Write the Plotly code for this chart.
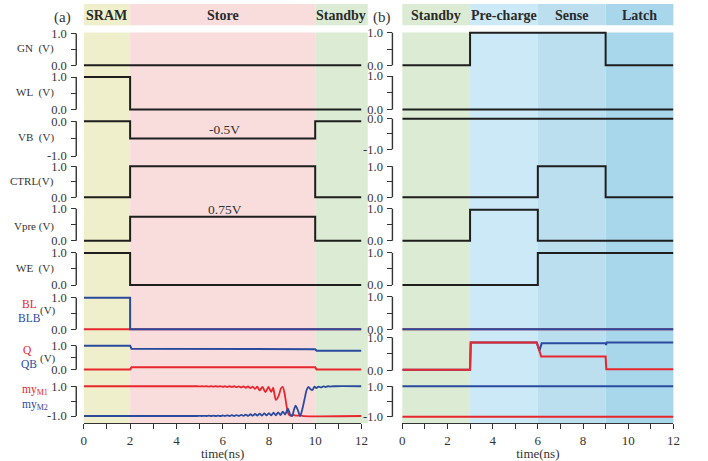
import plotly.graph_objects as go

W, H = 708, 461

# ---------------- data ----------------
phase_edges_a = [0, 2, 10, 12]
phase_names_a = ["SRAM", "Store", "Standby"]
phase_colors_a = ["#efefcb", "#f9dcdc", "#dcebd3"]

phase_edges_b = [0, 3, 6, 9, 12]
phase_names_b = ["Standby", "Pre-charge", "Sense", "Latch"]
phase_colors_b = ["#dcebd3", "#cbe9f6", "#bcdff0", "#a8d7eb"]

# panel (a): control signals, each value held until the next time point
t_a = [0, 2, 10, 12]
gn_a = [0, 0, 0, 0]
wl_a = [1, 0, 0, 0]
vb_a = [0, -0.5, 0, 0]
ctrl_a = [0, 1, 0, 0]
vpre_a = [0, 0.75, 0, 0]
we_a = [1, 0, 0, 0]
bl_a = [0, 0, 0, 0]
blb_a = [1, 0, 0, 0]

# panel (a): storage node voltages
q_a_t = [0, 2.0, 2.06, 10.0, 10.06, 12]
q_a = [0.0, 0.0, 0.10, 0.10, 0.0, 0.0]
qb_a_t = [0, 2.0, 2.06, 10.0, 10.06, 12]
qb_a = [1.0, 1.0, 0.87, 0.85, 0.79, 0.79]

# panel (a): normalized magnetization of M1 / M2 during the store phase
my1_a_t = [0, 4.9, 5.0, 5.1, 5.2, 5.3, 5.4, 5.5, 5.6, 5.7, 5.8, 5.9, 6.0, 6.1,
           6.2, 6.3, 6.4, 6.5, 6.6, 6.7, 6.8, 6.9, 7.0, 7.1, 7.2, 7.3, 7.4,
           7.5, 7.6, 7.72, 7.85, 7.98, 8.1, 8.18, 8.3, 8.42, 8.52, 8.6, 8.68,
           8.76, 8.84, 8.92, 9.05, 9.2, 9.35, 9.5, 12]
my1_a = [1.0, 1.0, 0.99, 1.0, 0.985, 1.0, 0.98, 1.0, 0.975, 1.0, 0.97, 1.0,
         0.965, 1.0, 0.955, 1.0, 0.945, 1.0, 0.935, 0.995, 0.92, 0.99, 0.9,
         0.99, 0.87, 0.98, 0.82, 0.97, 0.72, 0.96, 0.6, 0.95, 0.62, 0.9, 0.08,
         0.35, 0.85, 0.95, 0.5, -0.3, -0.85, -0.97, -0.93, -0.98, -0.95, -1.0,
         -1.0]
my2_a_t = [0, 4.9, 5.0, 5.1, 5.2, 5.3, 5.4, 5.5, 5.6, 5.7, 5.8, 5.9, 6.0, 6.1,
           6.2, 6.3, 6.4, 6.5, 6.6, 6.7, 6.8, 6.9, 7.0, 7.1, 7.2, 7.3, 7.4,
           7.5, 7.6, 7.7, 7.8, 7.9, 8.0, 8.1, 8.2, 8.3, 8.4, 8.5, 8.6, 8.7,
           8.82, 8.92, 9.0, 9.08, 9.15, 9.25, 9.35, 9.45, 9.55, 9.63, 9.71,
           9.8, 9.88, 9.97, 10.05, 10.15, 10.25, 10.35, 10.45, 10.55, 10.65,
           10.8, 12]
my2_a = [-1.0, -1.0, -0.99, -1.0, -0.985, -1.0, -0.98, -1.0, -0.975, -1.0,
         -0.97, -1.0, -0.965, -1.0, -0.955, -1.0, -0.945, -1.0, -0.935,
         -0.995, -0.92, -0.99, -0.9, -0.99, -0.88, -0.98, -0.86, -0.97, -0.84,
         -0.97, -0.82, -0.96, -0.8, -0.96, -0.78, -0.95, -0.75, -0.93, -0.7,
         -0.9, -0.5, -0.9, -1.0, -0.6, -0.3, -0.6, -1.0, -0.5, 0.2, 0.75, 0.95,
         0.8, 0.75, 0.97, 0.88, 0.98, 0.92, 0.99, 0.95, 1.0, 0.98, 1.0, 1.0]

# panel (b): control signals
t_b = [0, 3, 6, 9, 12]
gn_b = [0, 1, 1, 0, 0]
wl_b = [0, 0, 0, 0, 0]
vb_b = [0, 0, 0, 0, 0]
ctrl_b = [0, 0, 1, 0, 0]
vpre_b = [0, 0.97, 0, 0, 0]
we_b = [0, 0, 1, 1, 1]
bl_b = [0, 0, 0, 0, 0]
blb_b = [0, 0, 0, 0, 0]

# panel (b): storage node voltages during restore
q_b_t = [0, 3.0, 3.03, 5.95, 6.15, 9.0, 9.03, 12]
q_b = [0.02, 0.02, 0.85, 0.85, 0.42, 0.42, 0.04, 0.04]
qb_b_t = [0, 3.0, 3.03, 5.95, 6.07, 6.17, 9.0, 9.02, 9.05, 12]
qb_b = [0.02, 0.02, 0.85, 0.85, 0.6, 0.82, 0.82, 0.77, 0.85, 0.85]

my1_b_t = [0, 12]
my1_b = [-1.0, -1.0]
my2_b_t = [0, 12]
my2_b = [1.0, 1.0]

x_ticks = list(range(0, 13))
x_ticklabels = [str(v) if v % 2 == 0 else "" for v in x_ticks]

# ---------------- styling / geometry ----------------
BLACK = "#1e1e1e"
RED = "#e8262d"
BLUE = "#2a4a9e"
AXC = "#333333"
FONT = "Liberation Serif, Times New Roman, Tinos, serif"

def px_x(p):
    return p / W

def px_y(p):
    return 1 - p / H

# (top tick pixel, bottom tick pixel, top value, bottom value)
rows_a = [(30, 62.3, 1, 0), (74.3, 107.3, 1, 0), (119.3, 154.7, 0, -1),
          (165, 196.7, 1, 0), (208.3, 241, 1, 0), (253.3, 286, 1, 0),
          (299, 331, 1, 0), (347.7, 372, 1, 0), (389, 419.3, 1, -1)]
rows_b = [(29.3, 62.3, 1, 0), (73.3, 107.3, 1, 0), (116.7, 147.7, 0, -1),
          (165, 196.7, 1, 0), (208.3, 241, 1, 0), (253.3, 286, 1, 0),
          (298, 331, 1, 0), (339.3, 373, 1, 0), (389, 420, 1, -1)]

spine_a, spine_b = 74.3, 395
xdom_a = (82, 363.6)
xdom_b = (405, 680)
xaxis_line_px = 426.7
band_top_px = 29
header_px = 21.7
band_end_a = (370 - xdom_a[0]) / (xdom_a[1] - xdom_a[0])

PAD = 3  # pixels of breathing room above/below each strip

fig = go.Figure()
layout = dict(
    width=W, height=H, margin=dict(l=0, r=0, t=0, b=0),
    paper_bgcolor="white", plot_bgcolor="rgba(0,0,0,0)",
    showlegend=False, font=dict(family=FONT, color=AXC),
)

def xaxis_cfg(dom):
    return dict(
        domain=[px_x(dom[0]), px_x(dom[1])], range=[0, 12],
        anchor="free", position=px_y(xaxis_line_px),
        showline=True, linecolor=AXC, linewidth=1.4,
        ticks="outside", ticklen=5, tickwidth=1.3, tickcolor=AXC,
        tickvals=x_ticks, ticktext=x_ticklabels,
        tickfont=dict(size=13, family=FONT, color=AXC),
        showgrid=False, zeroline=False,
        title=dict(text="time(ns)", standoff=0,
                   font=dict(size=13, family=FONT, color=AXC)),
    )

layout["xaxis"] = xaxis_cfg(xdom_a)
layout["xaxis2"] = xaxis_cfg(xdom_b)

shapes = []
annotations = []

def add_rows(rows, spine, start_idx):
    for i, (ptop, pbot, vhi, vlo) in enumerate(rows):
        k = (pbot - ptop) / (vhi - vlo)
        n = start_idx + i
        key = "yaxis" if n == 1 else f"yaxis{n}"
        mid = (vhi + vlo) / 2
        layout[key] = dict(
            domain=[px_y(pbot + PAD), px_y(ptop - PAD)],
            range=[vlo - PAD / k, vhi + PAD / k],
            anchor="free", position=px_x(spine),
            showline=False, showgrid=False, zeroline=False,
            ticks="outside", ticklen=5, tickwidth=1.3, tickcolor=AXC,
            ticklabelstandoff=2,
            tickvals=[vlo, mid, vhi],
            ticktext=[f"{vlo:.1f}", " ", f"{vhi:.1f}"],
            tickfont=dict(size=12.5, family=FONT, color=AXC),
        )
        yref = "y" if n == 1 else f"y{n}"
        shapes.append(dict(type="line", xref="paper", yref=yref,
                           x0=px_x(spine), x1=px_x(spine), y0=vlo, y1=vhi,
                           line=dict(color=AXC, width=1.4), layer="above"))

add_rows(rows_a, spine_a, 1)
add_rows(rows_b, spine_b, 10)

def yname(n):
    return "y" if n == 1 else f"y{n}"

def add_line(x, y, xa, row, color, shape="linear", width=2.0):
    fig.add_trace(go.Scatter(
        x=x, y=y, xaxis=xa, yaxis=yname(row), mode="lines",
        line=dict(color=color, width=width, shape=shape,
                  **({"smoothing": 0.7} if shape == "spline" else {})),
        hoverinfo="skip"))

# panel (a)
add_line(t_a, gn_a, "x", 1, BLACK, "hv")
add_line(t_a, wl_a, "x", 2, BLACK, "hv")
add_line(t_a, vb_a, "x", 3, BLACK, "hv")
add_line(t_a, ctrl_a, "x", 4, BLACK, "hv")
add_line(t_a, vpre_a, "x", 5, BLACK, "hv")
add_line(t_a, we_a, "x", 6, BLACK, "hv")
add_line(t_a, bl_a, "x", 7, RED, "hv")
add_line(t_a, blb_a, "x", 7, BLUE, "hv")
add_line(qb_a_t, qb_a, "x", 8, BLUE)
add_line(q_a_t, q_a, "x", 8, RED)
add_line(my1_a_t, my1_a, "x", 9, RED, "spline", 1.8)
add_line(my2_a_t, my2_a, "x", 9, BLUE, "spline", 1.8)

# panel (b)
add_line(t_b, gn_b, "x2", 10, BLACK, "hv")
add_line(t_b, wl_b, "x2", 11, BLACK, "hv")
add_line(t_b, vb_b, "x2", 12, BLACK, "hv")
add_line(t_b, ctrl_b, "x2", 13, BLACK, "hv")
add_line(t_b, vpre_b, "x2", 14, BLACK, "hv")
add_line(t_b, we_b, "x2", 15, BLACK, "hv")
add_line(t_b, bl_b, "x2", 16, RED, "hv")
add_line(t_b, blb_b, "x2", 16, BLUE, "hv")
add_line(qb_b_t, qb_b, "x2", 17, BLUE)
add_line(q_b_t, q_b, "x2", 17, RED)
add_line(my1_b_t, my1_b, "x2", 18, RED)
add_line(my2_b_t, my2_b, "x2", 18, BLUE)

# phase bands (plot area + header strip)
def add_phases(edges, names, colors, xname, last_end):
    for j, name in enumerate(names):
        x0 = edges[j] / 12
        x1 = edges[j + 1] / 12 if j < len(names) - 1 else last_end
        for y0, y1 in [(px_y(xaxis_line_px), px_y(band_top_px)),
                       (px_y(header_px), 1.0)]:
            shapes.append(dict(type="rect", xref=f"{xname} domain",
                               yref="paper", x0=x0, x1=x1, y0=y0, y1=y1,
                               fillcolor=colors[j], line=dict(width=0),
                               layer="below"))
        annotations.append(dict(
            xref=f"{xname} domain", yref="paper", x=(x0 + x1) / 2,
            y=px_y(header_px / 2 + 0.5), text=f"<b>{name}</b>",
            showarrow=False, xanchor="center", yanchor="middle",
            font=dict(size=14, family=FONT, color="#2a2a2a")))

add_phases(phase_edges_a, phase_names_a, phase_colors_a, "x", band_end_a)
add_phases(phase_edges_b, phase_names_b, phase_colors_b, "x2", 1.0)

# value callouts on the store-phase levels
annotations.append(dict(xref="x", yref="y3", x=6.1, y=vb_a[1],
                        text="-0.5V", showarrow=False, yshift=9,
                        xanchor="center", yanchor="middle",
                        font=dict(size=13.5, family=FONT, color="#333")))
annotations.append(dict(xref="x", yref="y5", x=6.1, y=vpre_a[1],
                        text="0.75V", showarrow=False, yshift=7,
                        xanchor="center", yanchor="middle",
                        font=dict(size=13.5, family=FONT, color="#333")))

# panel letters
annotations.append(dict(xref="paper", yref="paper", x=px_x(60), y=px_y(14),
                        text="(a)", showarrow=False, xanchor="center",
                        yanchor="middle",
                        font=dict(size=15, family=FONT, color="#333")))
annotations.append(dict(xref="paper", yref="paper", x=px_x(384), y=px_y(14),
                        text="(b)", showarrow=False, xanchor="center",
                        yanchor="middle",
                        font=dict(size=15, family=FONT, color="#333")))

# row labels on the left of panel (a)
NB = "\u00a0"
lab_font = dict(size=11, family=FONT, color="#333")
row_labels = [("GN" + NB * 2 + "(V)", 45.7), ("WL" + NB * 2 + "(V)", 90),
              ("VB" + NB * 2 + "(V)", 135.7), ("CTRL(V)", 180.7),
              ("Vpre" + NB + "(V)", 226), ("WE" + NB * 2 + "(V)", 269.3)]
for text, yp in row_labels:
    annotations.append(dict(xref="paper", yref="paper", x=px_x(53.5),
                            y=px_y(yp), text=text, showarrow=False,
                            xanchor="right", yanchor="middle", font=lab_font))

def lab(text, xc, yp, color, size=11, anchor="center"):
    annotations.append(dict(xref="paper", yref="paper", x=px_x(xc),
                            y=px_y(yp), text=text, showarrow=False,
                            xanchor=anchor, yanchor="middle",
                            font=dict(size=size, family=FONT, color=color)))

lab("BL", 26.5, 305, RED, 11.5)
lab("(V)", 46, 311.7, "#333")
lab("BLB", 27, 319.5, BLUE, 11.5)
lab("Q", 25, 351.7, RED, 11.5)
lab("(V)", 46, 360.7, "#333")
lab("QB", 26, 366.5, BLUE, 11.5)
lab("my<sub>M1</sub>", 17, 393.3, RED, 11.5, "left")
lab("my<sub>M2</sub>", 17, 408.3, BLUE, 11.5, "left")

layout["shapes"] = shapes
layout["annotations"] = annotations
fig.update_layout(**layout)

fig.write_html("out.html")
